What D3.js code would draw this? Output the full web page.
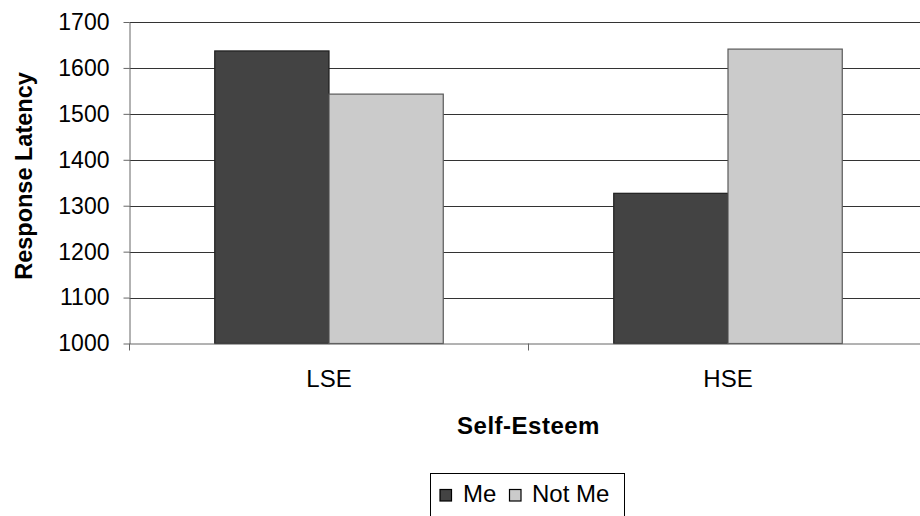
<!DOCTYPE html>
<html>
<head>
<meta charset="utf-8">
<script src="https://cdn.jsdelivr.net/npm/d3@7"></script>
<style>
  html, body { margin: 0; padding: 0; background: #fff; }
  svg { display: block; }
  text { font-family: "Liberation Sans", Arial, sans-serif; fill: #000; }
</style>
</head>
<body>
<svg id="chart" width="920" height="516"></svg>
<script>
// ---- data ----
const categories = ["LSE", "HSE"];
const seriesNames = ["Me", "Not Me"];
const meValues = [1637, 1327];
const notMeValues = [1543, 1641];
const yTicks = [1000, 1100, 1200, 1300, 1400, 1500, 1600, 1700];
const xTitle = "Self-Esteem";
const yTitle = "Response Latency";
const seriesColors = ["#434343", "#cbcbcb"];
const seriesStrokes = ["#1e1e1e", "#5a5a5a"];

const svg = d3.select("#chart");
const W = 920, H = 516;
const plot = { left: 129.5, top: 22, right: 927.5, bottom: 343.5 };

const x = d3.scaleBand().domain(categories).range([plot.left, plot.right]).paddingInner(0).paddingOuter(0);
const xs = d3.scaleBand().domain(seriesNames).range([0, x.bandwidth()]).paddingInner(0).paddingOuter(0.746);
const y = d3.scaleLinear().domain([1000, 1700]).range([plot.bottom, plot.top]);

// gridlines
svg.append("g").selectAll("line").data(yTicks.slice(1)).join("line")
  .attr("x1", plot.left).attr("x2", W)
  .attr("y1", d => Math.round(y(d)) + 0.5).attr("y2", d => Math.round(y(d)) + 0.5)
  .attr("stroke", "#333").attr("stroke-width", 1);

// bars
const rows = categories.map((c, i) => ({ c, vals: [meValues[i], notMeValues[i]] }));
const g = svg.append("g");
rows.forEach(r => {
  r.vals.forEach((v, j) => {
    g.append("rect")
      .attr("x", x(r.c) + xs(seriesNames[j]))
      .attr("y", y(v))
      .attr("width", xs.bandwidth())
      .attr("height", y(1000) - y(v))
      .attr("fill", seriesColors[j])
      .attr("stroke", seriesStrokes[j])
      .attr("stroke-width", 1.2);
  });
});

// y axis
const yAxis = d3.axisLeft(y).tickValues(yTicks).tickFormat(d3.format("d"))
  .tickSizeInner(6).tickSizeOuter(0).tickPadding(14);
const ya = svg.append("g").attr("transform", `translate(${plot.left},0)`).call(yAxis);
ya.select(".domain").attr("stroke", "#666");
ya.selectAll(".tick line").attr("stroke", "#666");
ya.selectAll(".tick text").style("font-size", "23px").attr("fill", "#000");

// x axis
const xAxis = d3.axisBottom(x).tickSize(0).tickPadding(26);
const xa = svg.append("g").attr("transform", `translate(0,${plot.bottom})`).call(xAxis);
xa.select(".domain").attr("stroke", "#666");
xa.selectAll(".tick text").style("font-size", "24px").attr("fill", "#000");
// category boundary ticks
const bounds = [plot.left, plot.left + x.step(), plot.left + 2 * x.step()];
xa.selectAll(".bound").data(bounds).join("line").attr("class", "bound")
  .attr("x1", d => d).attr("x2", d => d).attr("y1", 0).attr("y2", 7).attr("stroke", "#666");

// axis titles
svg.append("text").attr("x", (plot.left + 927.5) / 2).attr("y", 434)
  .attr("text-anchor", "middle").style("font-size", "24px").style("font-weight", "bold")
  .style("letter-spacing", "0.5px")
  .text(xTitle);
svg.append("text").attr("transform", "translate(32,176) rotate(-90)")
  .attr("text-anchor", "middle").style("font-size", "23.5px").style("font-weight", "bold")
  .text(yTitle);

// legend
const lg = svg.append("g");
lg.append("rect").attr("x", 430.5).attr("y", 473.5).attr("width", 194).attr("height", 50)
  .attr("fill", "#fff").attr("stroke", "#000").attr("stroke-width", 1);
const legendPos = [{ sx: 440, tx: 463 }, { sx: 509.5, tx: 532 }];
seriesNames.forEach((n, i) => {
  lg.append("rect").attr("x", legendPos[i].sx).attr("y", 489.5).attr("width", 11.5).attr("height", 11.5)
    .attr("fill", seriesColors[i]).attr("stroke", "#000").attr("stroke-width", 1.2);
  lg.append("text").attr("x", legendPos[i].tx).attr("y", 502)
    .style("font-size", "24px").text(n);
});
</script>
</body>
</html>
